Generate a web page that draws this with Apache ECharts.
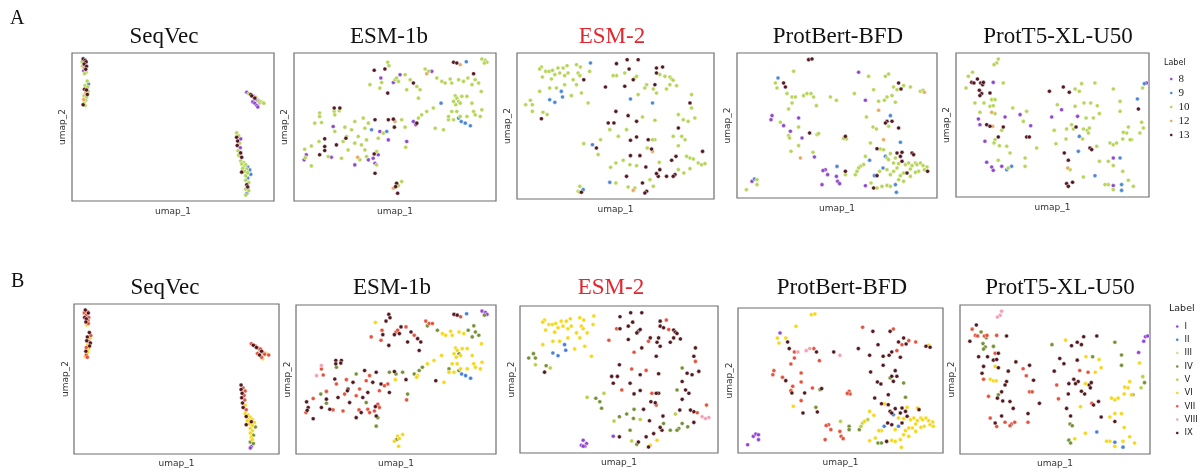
<!DOCTYPE html>
<html><head><meta charset="utf-8">
<script src="https://cdn.jsdelivr.net/npm/echarts@6/dist/echarts.min.js"></script>
<style>html,body{margin:0;padding:0;background:#fff}#c{width:1203px;height:475px}</style>
</head><body><div id="c"></div>
<script>
// ---------------- data ----------------
const modelNames = ['SeqVec','ESM-1b','ESM-2','ProtBert-BFD','ProtT5-XL-U50'];
const labelsA = ['8','9','10','12','13'];
const labelsB = ['I','II','III','IV','V','VI','VII','VIII','IX'];
const colorsA = ['#8b3fc8','#4581d0','#b2d24f','#e9a45b','#4b0c14'];
const colorsB = ['#8e3bd1','#3a78d8','#c9dc8a','#6e8b2a','#b5cc3a','#f5d50a','#e24a33','#f29bb0','#4a0c12'];

// each point: [umap_1, umap_2, label index in A, label index in B]
const seqvecPts = [
[5.5,96,4,8],[6.5,95,4,6],[5,94,2,6],[7,94,4,8],[6,92.5,4,6],[5.2,91,2,8],[7.2,91,4,6],[6,90,3,8],[6.8,89,4,6],[5.8,88,0,8],[7,87,2,6],[6.2,86,2,5],
[7.5,81,2,8],[8.2,79,1,6],[6.5,78,2,8],[7.8,77,2,5],[6.2,75.5,4,8],[7.2,75,4,6],[8,74,2,8],[6.8,73,3,5],[7.6,72,4,8],[6,71,2,6],[7.2,70,2,5],[5.8,68.5,3,8],[6.8,68,2,5],[6,66,2,6],[5.5,65,4,5],[6.5,64.5,2,6],
[86.5,73.5,0,6],[87.5,72.5,2,8],[88.5,72,4,6],[89,71,4,8],[90,70.5,0,6],[90.5,69.5,4,3],[91,70,2,6],[91.5,68.5,0,8],[92,68,0,6],[92.5,67.5,2,5],[93,66.5,0,6],[93.5,67,2,3],[94.5,66.5,2,5],[89.5,67,0,6],[90.5,66,0,8],[91.5,64.5,0,6],[92,63.5,0,5],[95,66,2,6],
[81.5,46,2,8],[82.5,44,2,6],[81.5,43,4,8],[83.5,42,0,6],[82,40.5,4,8],[83,39,2,6],[81.8,37.5,4,8],[83.3,36,0,6],[82.2,34,2,8],[83.5,32.5,4,5],[82.5,31,2,8],[84,29.5,4,6],
[83.5,27,2,5],[85,26,2,5],[84,25,2,8],[86,24.5,2,5],[85,23,2,5],[87,23,1,5],[84.5,22,2,5],[86.5,21.5,2,8],[88,21,1,5],[85.5,20,2,5],[87,19,2,5],[84,19.5,4,8],[88.5,18,1,3],[86,17,2,5],
[87,15.5,1,5],[86,14,2,5],[87.5,12.5,2,3],[86.5,11,4,5],[87,9.5,4,5],[86,8,2,3],[87.5,7,2,3],[86.5,5,1,0],[86,4,2,0]
];
const esm1bPts = [
[93.0,95.9,2,0],[94.7,95.0,2,0],[95.5,93.7,2,0],[94.2,93.2,2,3],[79.0,93.7,4,8],[80.6,93.2,4,8],[82.3,92.1,3,6],[85.3,94.1,1,1],[46.4,93.7,2,8],[47.0,91.4,2,8],[39.7,88.3,4,5],[45.0,89.2,4,8],[43.0,83.1,0,6],[43.4,80.1,2,8],[42.5,76.3,2,6],[37.6,78.6,2,6],[50.0,81.9,2,6],[49.2,80.1,0,8],[50.8,83.1,2,6],[52.5,85.3,0,8],[51.7,80.8,2,8],[55.0,85.3,2,6],[57.5,81.9,2,8],[59.1,79.7,4,6],[60.8,77.4,2,8],[55.8,75.2,2,8],[46.4,72.9,4,8],[64.9,89.2,2,6],[66.6,87.6,2,6],[68.2,87.6,0,6],[65.7,86.0,3,3],[70.7,83.1,2,3],[73.2,80.8,2,5],[77.3,82.4,2,5],[74.8,79.7,2,5],[78.1,79.7,2,5],[81.5,81.9,2,5],[83.9,80.8,2,5],[86.1,83.1,2,3],[88.9,86.0,4,3],[89.7,81.9,2,3],[91.4,79.7,2,3],[92.7,74.0,2,5],[88.1,78.6,2,3],[62.4,75.2,2,8],[61.6,69.5,2,8],
[79.8,71.1,2,5],[80.6,69.5,2,5],[81.5,67.3,2,3],[82.3,66.1,2,5],[80.1,65.0,2,5],[83.1,70.7,2,5],[85.6,70.7,2,5],[79.0,67.3,2,5],[78.1,60.5,2,5],[80.6,60.5,2,5],[76.5,54.9,2,5],[79.0,54.9,2,5],[81.5,56.0,1,3],[82.8,53.7,1,1],[84.8,52.6,1,1],[87.3,50.8,1,1],[82.3,57.1,2,5],[85.6,57.1,2,5],[88.1,66.1,2,5],[89.7,58.2,2,5],[92.2,57.1,2,5],[93.0,61.6,2,5],[88.9,60.5,2,5],[72.8,66.1,1,5],[69.0,62.8,2,5],[65.7,60.5,2,5],[63.2,58.2,2,3],[61.6,56.0,2,3],[60.8,52.6,4,5],[60.3,51.5,0,5],[59.1,53.7,0,3],[69.9,49.2,2,8],[74.0,48.1,2,5],[76.5,57.1,2,3],
[40.1,54.9,4,8],[46.7,54.9,4,3],[49.2,55.3,4,8],[50.0,53.7,3,3],[49.7,49.9,4,5],[45.9,47.0,1,6],[42.5,47.0,0,8],[44.2,45.8,2,6],[38.4,48.1,1,8],[35.1,49.2,2,6],[34.3,56.0,2,8],[30.1,53.7,2,3],[36.8,52.6,2,6],[53.3,54.9,2,3],[55.0,49.9,2,8],[55.8,40.2,0,3],[55.3,36.3,2,6],[46.7,41.3,0,8],[41.7,42.4,2,6],[35.9,41.3,2,8],[31.8,43.6,2,6],[28.5,48.1,2,8],
[19.9,62.8,4,8],[22.7,62.8,4,8],[19.9,60.5,2,8],[22.4,61.0,2,8],[20.2,58.2,2,3],[12.7,59.4,2,7],[12.7,57.1,2,6],[10.3,52.6,2,7],[13.6,53.0,2,6],[19.4,50.3,0,8],[20.2,47.0,2,6],[25.2,49.9,2,6],[26.0,43.6,2,8],[25.7,42.4,4,8],[15.2,42.0,4,6],[12.4,40.2,2,3],[8.6,37.2,2,6],[5.3,35.0,2,8],[6.1,31.2,0,8],[5.0,27.8,0,6],[5.6,29.3,2,8],[8.6,23.7,2,8],[12.7,31.2,4,8],[15.2,36.8,4,8],[15.2,34.1,4,3],[16.9,30.0,2,8],[18.5,29.6,0,6],[21.0,37.9,4,8],[23.5,28.9,2,6],[26.8,34.5,2,8],[30.1,24.4,0,8],[31.5,29.6,3,6],[32.6,27.8,2,8],[35.1,34.5,2,3],[35.9,30.0,2,6],[36.8,27.8,0,6],[39.2,28.9,0,6],[39.7,31.8,4,8],[40.9,33.4,2,6],[41.7,31.2,0,6],[40.1,25.5,0,8],[40.9,24.4,2,3],[30.1,39.1,2,6],[33.4,37.9,2,8],[24.3,40.2,2,6],
[40.1,18.7,4,3],[50.8,12.0,4,5],[51.7,10.4,2,5],[53.3,13.1,2,5],[49.2,8.6,3,5],[51.3,5.2,4,5],[50.3,9.7,4,3]
];
const esm2Pts = [
[12.4,90.4,2,5],[11.5,89.0,2,5],[14.6,87.4,2,5],[16.3,87.4,2,5],[18.0,88.1,2,5],[20.8,89.7,2,5],[23.4,89.7,2,5],[25.4,91.3,2,5],[30.2,92.0,2,5],[32.2,90.4,2,5],[37.3,93.2,1,5],[36.9,87.4,2,5],[31.0,86.3,2,5],[31.9,84.5,2,5],[25.9,86.3,2,5],[24.2,84.5,2,5],[21.7,86.3,2,5],[19.2,85.2,2,5],[17.5,82.2,2,5],[12.9,83.6,2,5],[33.9,81.7,4,5],[28.5,81.7,2,5],[22.5,73.7,1,1],[16.6,76.0,2,5],[20.0,76.0,2,5],[24.2,78.3,2,5],[30.2,78.3,2,5],[32.7,72.6,2,5],[27.6,70.8,2,5],[23.1,69.9,1,1],[19.2,66.2,1,1],[16.6,68.0,1,1],[11.5,73.7,2,5],[36.1,65.8,2,5],[6.8,67.6,2,3],[4.4,64.6,2,3],[7.8,64.6,2,3],[7.8,60.0,2,4],[13.2,59.4,2,3],[15.3,57.8,2,4],[12.4,55.0,4,8],
[50.5,92.7,4,8],[55.9,95.4,4,8],[61.5,95.4,4,8],[56.9,89.0,4,8],[54.7,86.3,2,8],[50.5,84.5,2,8],[48.8,84.5,2,6],[59.8,82.9,2,8],[60.7,84.0,2,8],[59.0,81.7,4,8],[70.8,89.7,4,8],[73.9,90.4,4,6],[70.8,86.3,4,8],[72.5,85.2,2,8],[75.1,84.0,2,6],[77.6,83.6,2,8],[78.5,82.2,2,8],[79.3,81.3,2,8],[81.0,77.6,2,8],[77.6,78.3,2,8],[75.9,75.3,2,8],[70.0,78.3,4,8],[65.8,78.3,2,8],[64.9,76.0,2,6],[69.2,75.3,2,8],[54.7,77.2,4,8],[44.9,76.7,4,6],[61.5,71.5,2,8],[57.6,68.5,1,6],[68.8,65.8,1,8],[70.8,72.6,2,8],[88.6,71.5,2,8],[87.8,65.8,4,8],[88.6,62.3,2,6],[90.3,55.5,2,8],[86.9,53.2,2,8],[84.4,54.3,2,8],[81.9,57.8,2,3],[81.9,48.6,4,8],[79.3,42.9,2,3],[83.6,42.9,2,8],[85.3,40.6,2,8],[81.9,36.5,2,8],[87.8,28.1,2,8],[89.5,27.4,2,6],[92.0,24.7,2,7],[93.7,23.5,2,7],[95.4,24.2,2,7],[94.2,32.6,4,6],[86.1,29.2,2,8],[80.7,29.2,4,8],[78.5,26.5,4,4],[87.8,20.8,2,8],[84.7,17.8,2,3],[81.9,20.1,2,3],[80.2,16.7,4,3],[79.3,15.5,4,3],[75.9,15.5,4,3],[72.5,20.1,4,3],[72.2,25.1,2,8],[71.7,15.5,4,8],[70.8,17.4,4,8],[67.5,13.2,2,8],[69.2,8.7,2,5],[65.8,5.3,4,5],[64.9,4.1,4,8],[63.7,11.0,4,8],[59.8,7.5,2,8],[59.0,5.9,3,3],[56.4,8.2,2,4],[55.6,15.5,4,3],[57.3,23.5,2,3],[53.9,26.5,2,3],[60.7,22.8,2,4],[65.4,21.9,4,8],[68.3,34.2,4,8],[68.8,32.6,3,6],[70.0,40.6,2,8],[68.8,40.6,2,8],[66.6,40.6,4,6],[66.1,34.9,2,8],[62.4,29.7,4,8],[57.6,29.7,4,3],[60.7,42.5,4,8],[57.6,40.2,4,8],[55.6,47.5,2,8],[51.4,42.9,2,6],[47.1,47.5,2,8],[42.4,40.6,2,4],[46.3,52.1,4,8],[49.2,52.1,4,8],[50.2,60.0,4,8],[56.4,57.1,4,6],[60.7,53.2,4,8],[63.7,56.2,2,6],[70.0,53.9,2,8],[40.3,34.9,4,3],[38.3,37.2,1,3],[33.9,37.9,2,4],[41.2,30.4,2,3],[47.5,21.7,2,4],[50.2,24.7,2,3],[47.1,11.4,1,0],[50.2,11.0,2,8],[31.9,8.7,2,0],[31.0,5.3,2,0],[33.6,6.4,1,0],[32.7,4.6,4,0],[31.9,4.6,2,0]
];
const protbertPts = [
[35.8,95.4,4,5],[37.5,95.9,4,5],[28.3,87.4,2,5],[20.5,82.8,1,0],[19.2,79.3,2,5],[23.3,79.3,4,5],[24.2,76.6,4,8],[20.0,75.9,2,5],[60.8,86.7,0,6],[65.8,83.9,2,8],[74.2,83.9,2,8],[75.8,85.5,2,6],[25.0,72.0,2,8],[27.5,69.7,2,6],[29.2,69.7,2,7],[33.3,70.6,2,7],[35.0,72.0,2,7],[37.0,72.0,2,6],[38.3,69.7,2,8],[39.7,63.7,2,6],[27.5,65.5,2,6],[25.8,61.4,2,6],[46.7,69.7,2,8],[49.7,67.4,2,7],[58.7,72.0,2,8],[64.2,67.4,0,8],[68.3,74.7,2,8],[70.8,66.7,2,8],[73.7,67.4,2,8],[75.0,69.7,2,8],[77.5,70.6,2,6],[78.3,76.6,2,8],[80.0,74.7,2,6],[80.8,79.3,4,8],[82.0,75.2,4,8],[83.3,77.5,2,6],[86.7,76.6,2,6],[91.7,73.6,2,8],[93.0,74.3,2,5],[93.7,72.9,3,8],[79.2,66.0,2,8],[70.8,60.5,3,8],[64.7,55.9,2,8],[76.7,56.8,1,8],[77.5,52.9,4,8],[75.0,52.9,4,8],[74.2,51.7,4,3],[75.8,49.4,2,8],[80.8,48.3,4,3],[68.0,49.0,2,8],[69.7,47.6,2,8],[73.3,40.2,3,8],[81.7,38.4,1,3],
[17.5,56.8,0,6],[17.0,54.0,0,6],[21.7,52.2,2,6],[23.3,49.9,0,8],[30.8,55.2,0,6],[30.8,49.0,2,6],[26.7,46.0,0,6],[25.8,43.0,2,6],[26.3,41.4,2,8],[32.5,41.4,0,8],[36.3,44.8,4,6],[40.0,43.7,2,3],[40.8,44.4,2,8],[30.8,36.1,2,6],[27.0,32.2,2,5],[31.7,27.6,3,8],[38.0,31.5,2,3],[38.7,28.3,0,8],[54.2,42.5,4,6],[54.7,40.7,2,6],[53.3,41.1,2,6],
[66.7,37.9,2,8],[70.0,34.0,4,8],[71.7,33.8,2,5],[73.3,33.3,2,8],[74.2,28.7,1,8],[75.0,27.6,2,8],[76.7,30.6,2,8],[75.8,26.4,2,1],[80.0,31.0,4,8],[82.5,31.5,4,5],[81.7,28.7,4,8],[79.2,27.6,2,8],[78.3,24.1,2,5],[80.8,23.7,2,5],[82.5,25.3,4,8],[84.2,23.0,2,5],[87.5,31.0,4,5],[88.3,29.9,4,8],[85.8,24.1,2,5],[87.5,22.3,2,5],[89.2,24.1,2,5],[90.0,23.0,2,5],[91.7,24.1,2,5],[93.0,22.3,2,5],[95.0,21.4,2,5],[93.7,19.5,2,5],[95.3,18.4,4,5],[90.8,18.4,2,5],[89.2,17.7,2,5],[86.7,20.0,2,5],[85.0,17.2,4,5],[83.3,17.2,2,5],[80.0,20.7,2,8],[78.3,18.4,2,1],[76.7,16.1,2,5],[75.0,19.5,2,8],[73.0,20.7,1,8],[71.3,18.4,2,1],[70.0,15.4,4,5],[68.7,15.4,1,5],[66.3,26.0,1,5],[64.2,28.7,2,5],[63.3,23.0,2,4],[61.7,21.8,2,5],[60.8,20.7,2,4],[59.2,16.1,2,3],[60.0,18.4,2,4],[54.2,18.4,4,3],[54.2,16.1,2,3],[50.0,21.8,1,4],[44.2,19.5,0,6],[43.0,18.9,0,6],[45.3,16.1,0,6],[49.7,14.9,0,6],[50.3,11.5,0,6],[51.3,9.9,0,6],[42.5,9.2,0,6],[64.2,8.5,0,5],[67.0,10.3,2,5],[68.3,6.9,4,3],[70.0,6.9,2,3],[72.5,8.0,2,8],[75.0,8.7,2,5],[76.7,8.0,2,5],[79.2,9.2,1,5],[79.7,3.9,1,5],[80.8,12.6,2,5],[83.3,11.5,2,5],[86.7,14.9,2,5],[81.7,15.4,2,5],
[7.5,11.5,0,0],[8.7,13.1,1,0],[10.0,12.6,2,0],[10.0,9.2,2,0],[4.7,5.7,2,0]
];
const prott5Pts = [
[21.9,95.8,2,7],[21.1,93.1,2,7],[19.7,91.9,2,7],[8.6,86.6,2,8],[6.4,83.8,2,6],[5.2,75.7,2,8],[8.1,79.6,4,6],[9.3,79.2,4,6],[11.1,81.9,4,3],[12.8,79.2,4,6],[13.8,78.0,4,3],[14.2,79.6,4,6],[19.3,79.6,0,6],[24.5,79.2,2,8],[12.1,74.1,4,3],[13.3,71.8,4,3],[12.4,70.4,4,3],[17.6,72.2,4,3],[9.8,65.3,2,8],[14.5,65.3,2,8],[18.5,67.6,2,6],[20.2,67.6,2,8],[17.6,63.0,2,8],[19.3,63.4,2,8],[12.4,58.8,2,8],[18.5,58.8,3,5],[20.2,57.9,2,8],[25.4,55.6,0,8],[29.4,61.8,2,8],[33.2,57.2,0,6],[36.6,59.5,2,8],[11.6,54.2,0,8],[12.4,50.2,0,6],[15.9,50.2,4,5],[17.6,49.1,4,5],[19.0,49.1,3,5],[24.5,48.6,4,8],[23.7,46.3,2,8],[34.9,52.5,2,6],[38.7,49.5,0,8],[21.9,41.7,4,8],[20.2,39.8,2,3],[19.7,37.5,2,8],[15.0,38.7,0,6],[22.5,35.6,2,8],[26.3,35.2,2,8],[28.0,30.6,2,8],[36.6,41.7,4,6],[38.0,41.7,4,6],[41.8,34.0,2,8],[21.9,25.5,2,8],[15.9,24.1,0,6],[18.5,20.8,0,8],[23.7,21.3,0,6],[19.3,18.5,0,6],[27.1,20.1,2,6],[26.3,19.0,1,6],[28.8,21.3,1,6],[35.8,27.1,2,8],[35.8,21.3,2,6],
[48.4,73.4,4,3],[55.6,76.4,4,5],[58.7,72.7,4,8],[61.7,75.0,2,8],[63.9,73.4,2,8],[65.1,78.7,2,8],[72.0,79.2,2,8],[81.5,75.0,2,3],[52.5,64.1,2,8],[54.7,60.6,0,8],[61.7,63.0,2,8],[66.3,65.3,2,5],[69.8,65.3,2,3],[73.2,63.4,2,5],[74.3,57.9,2,5],[63.0,56.0,0,6],[67.4,54.9,2,6],[71.2,54.9,2,5],[62.2,48.6,4,8],[59.9,50.2,2,8],[60.8,47.2,2,8],[57.3,47.2,2,8],[50.9,46.3,2,6],[49.6,55.6,0,8],[66.0,47.2,2,5],[68.0,46.3,2,8],[69.1,47.9,2,8],[68.6,44.4,2,8],[65.6,40.3,2,8],[63.9,42.1,1,8],[57.0,40.3,2,8],[51.8,37.0,2,6],[56.1,30.6,4,8],[58.2,25.5,4,8],[57.9,20.1,3,3],[59.1,19.0,2,3],[63.4,31.7,1,5],[69.4,34.0,4,6],[70.3,32.9,4,8],[72.9,35.2,2,8],[85.0,66.4,2,3],[85.0,59.5,2,3],[89.3,48.6,2,5],[88.4,44.4,2,5],[86.7,44.9,2,5],[86.4,40.3,2,5],[91.0,39.8,2,3],[90.2,39.8,2,5],[95.3,44.4,2,4],[97.1,47.9,2,3],[96.2,51.9,2,4],[94.5,61.1,4,5],[94.0,68.1,1,0],[97.6,78.7,1,0],[96.7,75.7,2,0],[98.8,79.2,0,0],[79.8,37.5,2,5],[81.5,36.3,2,5],[83.2,37.5,2,5],[81.5,27.1,0,5],[85.0,27.1,1,5],[74.3,24.8,2,8],[78.9,24.8,2,5],[81.5,21.8,2,8],[86.4,17.8,2,5],[89.3,11.6,2,5],[91.9,7.4,2,5],[85.8,8.6,1,5],[85.8,4.6,1,1],[81.5,7.9,0,1],[78.9,8.6,2,5],[77.2,8.6,2,5],[81.5,5.1,2,5],[72.0,14.8,1,1],[66.0,13.9,2,5],[57.3,9.3,4,3],[58.2,7.4,4,3],[60.4,10.2,4,5]
];
const panelPts = [seqvecPts, esm1bPts, esm2Pts, protbertPts, prott5Pts];

// ---------------- layout ----------------
const boxesA = [[72,53,202,148],[294,53,202,148],[517,53,197,146],[737,53,200,145],[956,53,193,144]];
const boxesB = [[74,304,205,150],[296,305,200,149],[520,306,198,147],[738,308,205,145],[960,305,190,149]];
const titleXA = [164,389,612,838,1058];
const titleXB = [165,392,611,842,1060];
const titleYA = 37, titleYB = 288;

const grid = [], xAxis = [], yAxis = [], series = [], graphic = [];
const rows = [
  {boxes: boxesA, labels: labelsA, colors: colorsA, li: 2, tx: titleXA, ty: titleYA, nameGapX: 6, nameGapY: 5},
  {boxes: boxesB, labels: labelsB, colors: colorsB, li: 3, tx: titleXB, ty: titleYB, nameGapX: 5, nameGapY: 4}
];
let gi = 0;
rows.forEach(row => {
  row.boxes.forEach((b, p) => {
    grid.push({left: b[0], top: b[1], width: b[2], height: b[3], show: true, borderColor: '#6e6e6e', borderWidth: 1.2, backgroundColor: '#fff'});
    const axBase = {gridIndex: gi, type: 'value', min: 0, max: 100, axisLine: {show: false}, axisTick: {show: false}, axisLabel: {show: false}, splitLine: {show: false}, nameLocation: 'middle', nameTextStyle: {fontFamily: 'DejaVu Sans', fontSize: 9, color: '#333'}};
    xAxis.push(Object.assign({}, axBase, {name: 'umap_1', nameGap: row.nameGapX}));
    yAxis.push(Object.assign({}, axBase, {name: 'umap_2', nameGap: row.nameGapY, nameRotate: 90}));
    row.labels.forEach((lab, k) => {
      series.push({
        type: 'scatter', name: lab, xAxisIndex: gi, yAxisIndex: gi,
        data: panelPts[p].filter(pt => pt[row.li] === k).map(pt => [pt[0], pt[1]]),
        symbolSize: 4.1, silent: true,
        itemStyle: {color: row.colors[k], borderColor: '#ffffff', borderWidth: 0.5, opacity: 0.95}
      });
    });
    graphic.push({type: 'text', x: row.tx[p], y: row.ty, silent: true,
      style: {text: modelNames[p], fontFamily: 'Liberation Serif', fontSize: 23, fill: p === 2 ? '#e3262e' : '#111', textAlign: 'center', textVerticalAlign: 'middle'}});
    gi++;
  });
});
graphic.push({type: 'text', x: 10, y: 19, style: {text: 'A', fontFamily: 'Liberation Serif', fontSize: 20, fill: '#111', textVerticalAlign: 'middle'}});
graphic.push({type: 'text', x: 11, y: 282, style: {text: 'B', fontFamily: 'Liberation Serif', fontSize: 20, fill: '#111', textVerticalAlign: 'middle'}});
graphic.push({type: 'text', x: 1164, y: 63, style: {text: 'Label', fontFamily: 'DejaVu Sans', fontSize: 8, fill: '#222', textVerticalAlign: 'middle'}});
graphic.push({type: 'text', x: 1169, y: 309, style: {text: 'Label', fontFamily: 'DejaVu Sans', fontSize: 9.5, fill: '#222', textVerticalAlign: 'middle'}});

const chart = echarts.init(document.getElementById('c'), null, {renderer: 'canvas'});
chart.setOption({
  animation: false,
  backgroundColor: '#fff',
  grid, xAxis, yAxis, series, graphic,
  legend: [
    {data: labelsA, orient: 'vertical', left: 1163, top: 68, itemWidth: 4.5, itemHeight: 4.5, itemGap: 2, icon: 'circle', selectedMode: false,
     textStyle: {fontFamily: 'Liberation Serif', fontSize: 11, lineHeight: 12, color: '#222'}},
    {data: labelsB, orient: 'vertical', left: 1169, top: 316, itemWidth: 4.5, itemHeight: 4.5, itemGap: 2.3, icon: 'circle', selectedMode: false,
     textStyle: {fontFamily: 'DejaVu Sans', fontSize: 8.5, lineHeight: 11, color: '#222'}}
  ]
});
</script></body></html>
